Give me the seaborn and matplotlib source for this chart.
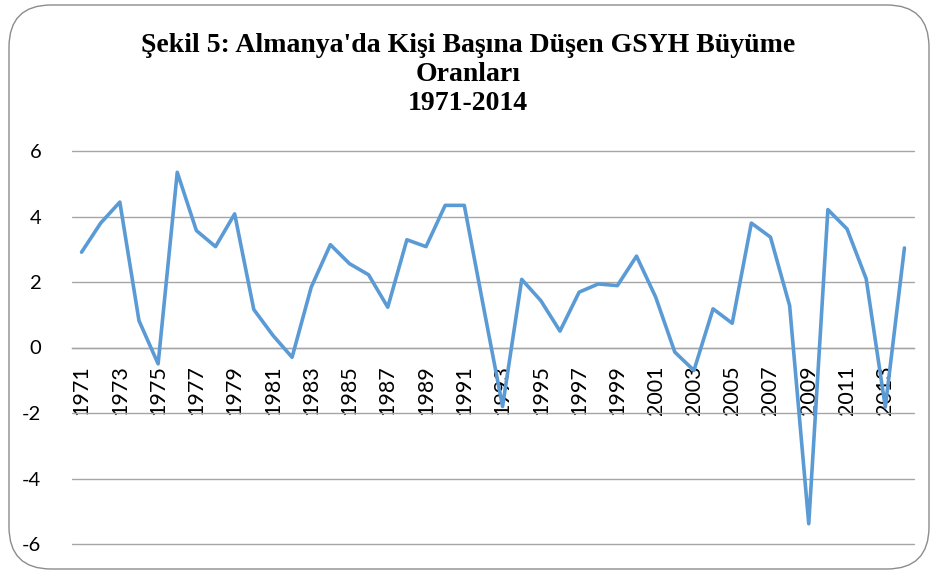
import numpy as np
import pandas as pd
import seaborn as sns
import matplotlib.pyplot as plt
from matplotlib.patches import FancyBboxPatch

# Data
years = list(range(1971, 2015))
growth = [2.91, 3.80, 4.44, 0.82, -0.50, 5.35, 3.57, 3.08, 4.08, 1.16,
          0.37, -0.30, 1.84, 3.14, 2.56, 2.22, 1.23, 3.29, 3.08, 4.34,
          4.34, 1.25, -1.80, 2.08, 1.43, 0.50, 1.69, 1.94, 1.89, 2.79,
          1.54, -0.14, -0.70, 1.18, 0.74, 3.80, 3.37, 1.28, -5.38, 4.21,
          3.62, 2.10, -1.82, 3.04]
tick_years = list(range(1971, 2014, 2))
y_ticks = [-6, -4, -2, 0, 2, 4, 6]
title = "Şekil 5: Almanya'da Kişi Başına Düşen GSYH Büyüme\nOranları\n1971-2014"

df = pd.DataFrame({"year": years, "growth": growth})

sns.set_style("white")
plt.rcParams["font.family"] = ["Lato", "DejaVu Sans"]
plt.rcParams["text.color"] = "black"
plt.rcParams["xtick.color"] = "black"
plt.rcParams["ytick.color"] = "black"

fig = plt.figure(figsize=(9.36, 5.73), dpi=100)
ax = fig.add_axes([72 / 936, 1 - 544 / 573, (914 - 72) / 936, (544 - 151) / 573])

# rounded chart border
fig.patches.append(FancyBboxPatch((9 / 936, 4 / 573), 920 / 936, 564 / 573,
                                  boxstyle="round,pad=0,rounding_size=0.045",
                                  transform=fig.transFigure, fill=False,
                                  edgecolor="#8c8c8c", linewidth=1.0,
                                  mutation_aspect=936 / 573))

sns.lineplot(data=df, x="year", y="growth", ax=ax, color="#5B9BD5",
             linewidth=2.6, zorder=3)

for v in y_ticks:
    ax.axhline(v, color="#A6A6A6", linewidth=1.0, zorder=1, clip_on=False)

for side in ["left", "right", "top"]:
    ax.spines[side].set_visible(False)
# category axis crosses at zero (set before styling tick labels)
ax.spines["bottom"].set_position(("data", 0))
ax.spines["bottom"].set_color("#A6A6A6")
ax.spines["bottom"].set_linewidth(1.0)

ax.set_xlim(1970.5, 2014.5)
ax.set_ylim(-6, 6)
ax.set_yticks(y_ticks)
ax.set_yticklabels([str(v) for v in y_ticks], fontsize=14.5, color="black")
ax.set_xticks(tick_years)
ax.set_xticklabels([str(y) for y in tick_years], rotation=90, fontsize=15.5,
                   color="black")
ax.tick_params(axis="y", length=0, pad=22)
ax.tick_params(axis="x", length=0, pad=13)
ax.set_xlabel("")
ax.set_ylabel("")

fig.text(0.5, 1 - 33 / 573, title, ha="center", va="top", fontsize=20,
         fontweight="bold", family="Liberation Serif", linespacing=1.2,
         color="black")

fig.savefig("out.png", dpi=100)
